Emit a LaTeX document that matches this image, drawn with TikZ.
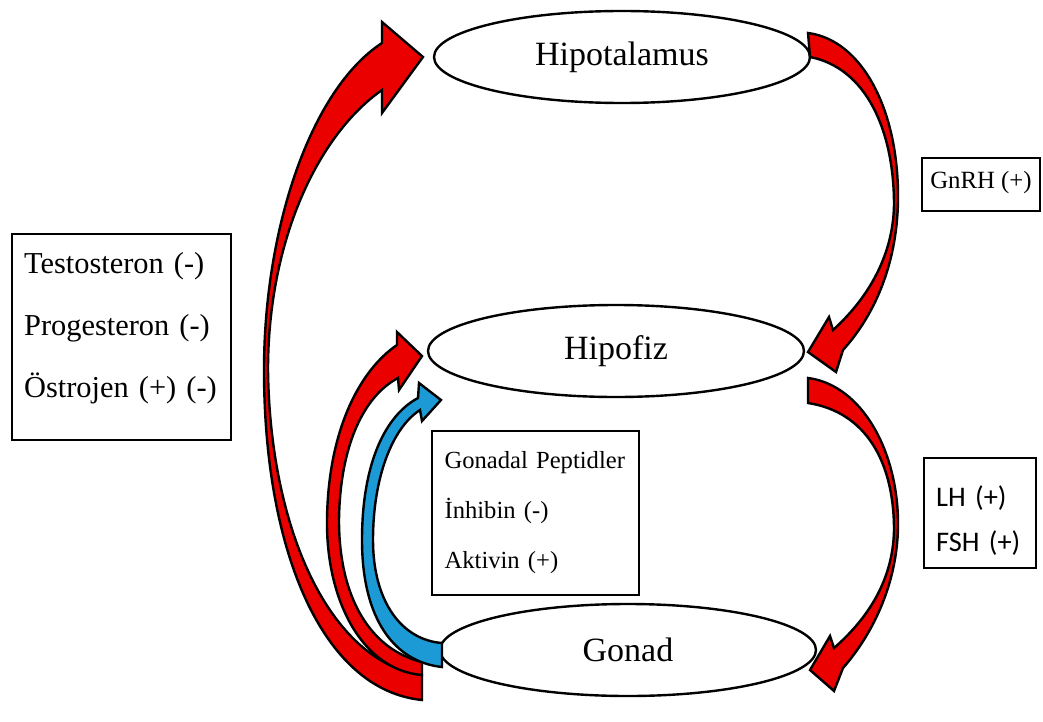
\documentclass[tikz,border=0pt]{standalone}
\usepackage{fontspec}
\setmainfont{Liberation Serif}
\newfontfamily\calibrifont{Carlito}
\usetikzlibrary{shapes.geometric}

\definecolor{okred}{RGB}{235,0,0}
\definecolor{okblue}{RGB}{28,154,214}

\begin{document}
\begin{tikzpicture}[
        x=0.5pt, y=-0.5pt,
        organ/.style={
            draw,
            ellipse,
            line width=1.2pt,
            minimum width=188pt,
            minimum height=46pt,
            inner sep=0pt,
            font=\fontsize{17}{20}\selectfont
        },
        infobox/.style={
            draw,
            line width=1.1pt,
            align=left,
            inner ysep=0pt
        },
        redarrow/.style={draw=black, line width=1.2pt, fill=okred},
        bluearrow/.style={draw=black, line width=1.2pt, fill=okblue}
    ]
        \useasboundingbox (0,0) rectangle (1043,722);

        % bezler
        \node[organ] (hipotalamus) at (622,57) {Hipotalamus};
        \node[organ] (hipofiz) at (616,351) {Hipofiz};
        \node[organ] (gonad) at (628,650) {Gonad};

        % kutular
        \node[infobox, anchor=north west, inner xsep=6pt, text width=97.5pt,
            font=\fontsize{15.2}{31}\selectfont] (steroidler) at (11,233)
            {\rule{0pt}{19.6pt}\mbox{Testosteron (-)}\\\mbox{Progesteron (-)}\\\mbox{Östrojen (+) (-)}\rule[-21.4pt]{0pt}{21.4pt}};
        \node[infobox, anchor=north west, inner xsep=6.25pt, text width=91pt,
            font=\fontsize{12.3}{25}\selectfont] (peptidler) at (431,430)
            {\rule{0pt}{18.6pt}\mbox{Gonadal Peptidler}\\İnhibin (-)\\Aktivin (+)\rule[-13.4pt]{0pt}{13.4pt}};
        \node[infobox, anchor=north, minimum width=59pt, inner xsep=4pt,
            font=\fontsize{12.4}{15}\selectfont] (gnrh) at (981,157)
            {\rule[-11.5pt]{0pt}{26.5pt}GnRH (+)};
        \node[infobox, anchor=north west, inner xsep=6pt, text width=44pt,
            font=\calibrifont\fontsize{14.2}{22.5}\selectfont] (lhfsh) at (923,457)
            {\rule{0pt}{24pt}LH (+)\\\mbox{FSH (+)}\rule[-8.5pt]{0pt}{8.5pt}};

        % Hipotalamus -> Hipofiz
        \draw[redarrow] (808,33) .. controls (862,40) and (899,110) .. (898,200)
            .. controls (897,268) and (872,318) .. (843,350)
            -- (836,372) -- (808,352) -- (829,317) -- (833,330)
            .. controls (866,300) and (893,258) .. (894,205)
            .. controls (894,130) and (866,68) .. (810,57) -- cycle;

        % Hipofiz -> Gonad
        \draw[redarrow] (808,378) .. controls (862,385) and (899,452) .. (898,527)
            .. controls (897,585) and (872,635) .. (843,668)
            -- (834,691) -- (810,670) -- (830,636) -- (834,648)
            .. controls (866,620) and (893,582) .. (894,530)
            .. controls (894,462) and (866,412) .. (808,403) -- cycle;

        % Gonad -> Hipotalamus
        \draw[redarrow] (422,700) .. controls (322,690) and (264,550) .. (264,370)
            .. controls (264,230) and (310,90) .. (382,43)
            -- (382,22) -- (423,57) -- (382,113) -- (382,90)
            .. controls (318,135) and (268,240) .. (268,370)
            .. controls (270,530) and (330,662) .. (422,675) -- cycle;

        % Gonad -> Hipofiz
        \draw[redarrow] (422,675) .. controls (362,670) and (326,600) .. (327,520)
            .. controls (328,430) and (360,370) .. (397,345)
            -- (397,332) -- (422,356) -- (399,390) -- (398,378)
            .. controls (364,396) and (340,445) .. (339,520)
            .. controls (339,600) and (372,650) .. (422,662) -- cycle;

        % peptidler
        \draw[bluearrow] (442,667) .. controls (395,662) and (362,620) .. (362,540)
            .. controls (362,462) and (386,415) .. (418,398)
            -- (419,383) -- (441,400) -- (422,421) -- (420,410)
            .. controls (392,428) and (373,478) .. (373,540)
            .. controls (373,602) and (402,640) .. (442,643) -- cycle;
\end{tikzpicture}
\end{document}
